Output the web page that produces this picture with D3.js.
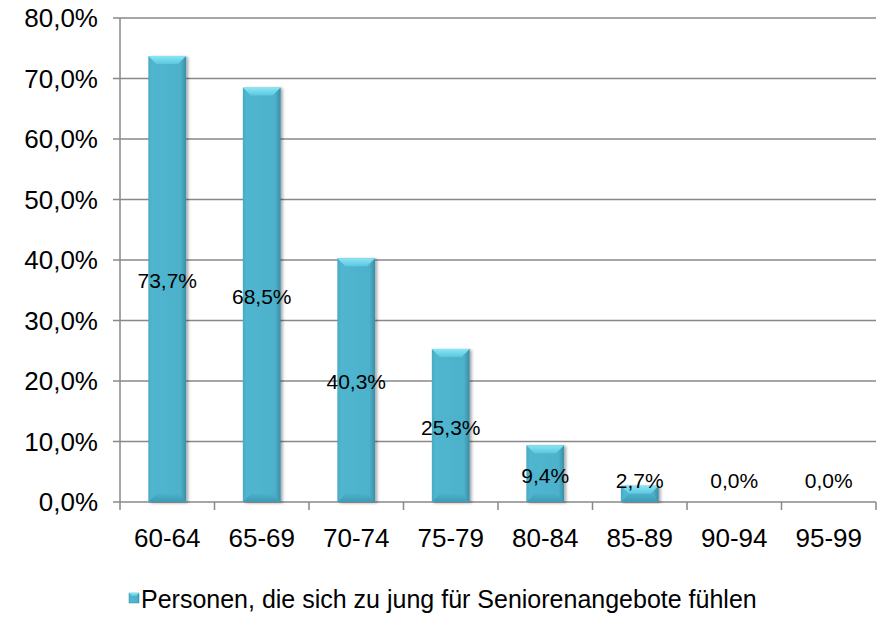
<!DOCTYPE html>
<html>
<head>
<meta charset="utf-8">
<script src="https://cdn.jsdelivr.net/npm/d3@7"></script>
<style>
  body { margin: 0; background: #fff; }
  svg { display: block; font-family: "Liberation Sans", Arial, sans-serif; }
</style>
</head>
<body>
<svg id="chart" width="883" height="627"></svg>
<script>
// data
const categories = ["60-64", "65-69", "70-74", "75-79", "80-84", "85-89", "90-94", "95-99"];
const values = [73.7, 68.5, 40.3, 25.3, 9.4, 2.7, 0.0, 0.0];
const yTicks = [0, 10, 20, 30, 40, 50, 60, 70, 80];
const seriesName = "Personen, die sich zu jung für Seniorenangebote fühlen";

const svg = d3.select("#chart");
const fmt = v => v.toFixed(1).replace(".", ",") + "%";

const x = d3.scaleBand().domain(categories).range([120, 876]).paddingInner(0).paddingOuter(0);
const y = d3.scaleLinear().domain([0, 80]).range([502, 18]);
const barW = x.bandwidth() / 2.5;

// gradients + shadow
const defs = svg.append("defs");
const bodyGrad = defs.append("linearGradient").attr("id", "body").attr("x1", 0).attr("x2", 1).attr("y1", 0).attr("y2", 0);
bodyGrad.append("stop").attr("offset", "0%").attr("stop-color", "#4aa9c2");
bodyGrad.append("stop").attr("offset", "10%").attr("stop-color", "#50b6d0");
bodyGrad.append("stop").attr("offset", "85%").attr("stop-color", "#4db1cb");
bodyGrad.append("stop").attr("offset", "100%").attr("stop-color", "#3a8ea5");
const topGrad = defs.append("linearGradient").attr("id", "topbev").attr("x1", 0).attr("x2", 0).attr("y1", 0).attr("y2", 1);
topGrad.append("stop").attr("offset", "0%").attr("stop-color", "#8ae6f5");
topGrad.append("stop").attr("offset", "100%").attr("stop-color", "#5cc7df");
const botGrad = defs.append("linearGradient").attr("id", "botbev").attr("x1", 0).attr("x2", 0).attr("y1", 0).attr("y2", 1);
botGrad.append("stop").attr("offset", "0%").attr("stop-color", "#4aafc9");
botGrad.append("stop").attr("offset", "100%").attr("stop-color", "#3f9bb3");
const sh = defs.append("filter").attr("id", "shadow").attr("x", "-20%").attr("y", "-5%").attr("width", "150%").attr("height", "115%");
sh.append("feDropShadow").attr("dx", 2).attr("dy", 1).attr("stdDeviation", 1.5).attr("flood-color", "#000").attr("flood-opacity", 0.35);

// gridlines
svg.append("g").selectAll("line").data(yTicks).join("line")
  .attr("x1", 113).attr("x2", 876)
  .attr("y1", d => y(d)).attr("y2", d => y(d))
  .attr("stroke", "#888").attr("stroke-width", 1.5);

// y axis line
svg.append("line").attr("x1", 120).attr("x2", 120).attr("y1", y(80)).attr("y2", y(0))
  .attr("stroke", "#888").attr("stroke-width", 1.5);

// y labels
svg.append("g").selectAll("text").data(yTicks).join("text")
  .attr("x", 98).attr("y", d => y(d))
  .attr("dy", "0.35em").attr("text-anchor", "end")
  .attr("font-size", 26).attr("fill", "#000")
  .text(d => fmt(d));

// x ticks
const bounds = categories.map(c => x(c)).concat([x.range()[1]]);
svg.append("g").selectAll("line").data(bounds).join("line")
  .attr("x1", d => d).attr("x2", d => d)
  .attr("y1", y(0)).attr("y2", y(0) + 8)
  .attr("stroke", "#888").attr("stroke-width", 1.5);

// x labels
svg.append("g").selectAll("text").data(categories).join("text")
  .attr("x", d => x(d) + x.bandwidth() / 2).attr("y", 547)
  .attr("text-anchor", "middle").attr("font-size", 26).attr("fill", "#000")
  .text(d => d);

// bars
const bars = svg.append("g").selectAll("g").data(values.map((v, i) => ({ c: categories[i], v })).filter(d => d.v > 0))
  .join("g").attr("filter", "url(#shadow)");
bars.each(function (d) {
  const g = d3.select(this);
  const bx = x(d.c) + (x.bandwidth() - barW) / 2;
  const by = y(d.v);
  const bh = y(0) - by;
  const bev = Math.min(8, bh / 2);
  g.append("rect").attr("x", bx).attr("y", by).attr("width", barW).attr("height", bh).attr("fill", "url(#body)");
  g.append("polygon")
    .attr("points", [[bx, by], [bx + barW, by], [bx + barW - bev, by + bev], [bx + bev, by + bev]].map(p => p.join(",")).join(" "))
    .attr("fill", "url(#topbev)");
  g.append("polygon")
    .attr("points", [[bx, by + bh], [bx + barW, by + bh], [bx + barW - bev, by + bh - bev], [bx + bev, by + bh - bev]].map(p => p.join(",")).join(" "))
    .attr("fill", "url(#botbev)");
});

// data labels
svg.append("g").selectAll("text").data(values).join("text")
  .attr("x", (d, i) => x(categories[i]) + x.bandwidth() / 2)
  .attr("y", d => Math.min((y(d) + y(0)) / 2 + 2, 481))
  .attr("dy", "0.35em").attr("text-anchor", "middle")
  .attr("font-size", 21).attr("fill", "#000")
  .text(d => fmt(d));

// legend
const lg = svg.append("g");
lg.append("rect").attr("x", 129).attr("y", 593).attr("width", 10).attr("height", 10).attr("fill", "url(#body)")
  .attr("stroke", "#3a8ea5").attr("stroke-width", 0.5);
lg.append("polygon").attr("points", "129,593 139,593 136,596 132,596").attr("fill", "url(#topbev)");
lg.append("text").attr("x", 141).attr("y", 599).attr("dy", "0.35em")
  .attr("font-size", 25).attr("fill", "#000").text(seriesName);
</script>
</body>
</html>
